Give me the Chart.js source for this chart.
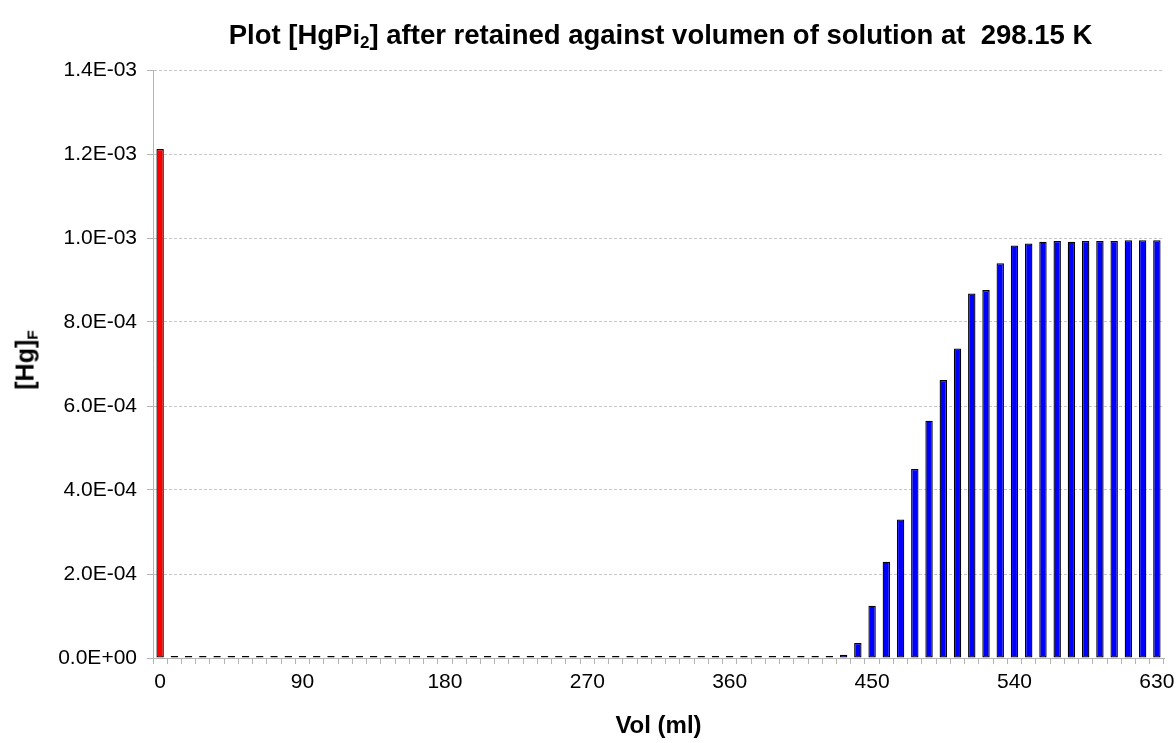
<!DOCTYPE html>
<html>
<head>
<meta charset="utf-8">
<script src="https://cdn.jsdelivr.net/npm/chart.js@4"></script>
<style>
  body { margin: 0; background: #fff; }
  #wrap { position: relative; width: 1176px; height: 743px; }
  #title {
    position: absolute; left: 153px; width: 1015px; top: 20px;
    text-align: center; font: bold 27.5px "Liberation Sans", Arial, sans-serif;
    line-height: 30px; white-space: nowrap;
  }
  #ylabel {
    position: absolute; left: 26px; top: 360px;
    transform: translate(-50%, -50%) rotate(-90deg);
    font: bold 25px "Liberation Sans", Arial, sans-serif; white-space: nowrap;
  }
  sub { font-size: 62%; vertical-align: -0.25em; }
</style>
</head>
<body>
<div id="wrap">
  <canvas id="chart" width="1176" height="743"></canvas>
  <div id="title">Plot [HgPi<sub>2</sub>] after retained against volumen of solution at&nbsp; 298.15 K</div>
  <div id="ylabel">[Hg]<sub>F</sub></div>
</div>
<script>
// volume (ml) for each bar
const volumes = [
  "0", "9", "18", "27", "36", "45", "54", "63", "72", "81",
  "90", "99", "108", "117", "126", "135", "144", "153", "162", "171",
  "180", "189", "198", "207", "216", "225", "234", "243", "252", "261",
  "270", "279", "288", "297", "306", "315", "324", "333", "342", "351",
  "360", "369", "378", "387", "396", "405", "414", "423", "432", "441",
  "450", "459", "468", "477", "486", "495", "504", "513", "522", "531",
  "540", "549", "558", "567", "576", "585", "594", "603", "612", "621",
  "630"
];

// [Hg]F (the flat ones are only a hair above zero)
const hgFree = [
  1.212e-3,
  5e-6, 5e-6, 5e-6, 5e-6, 5e-6, 5e-6, 5e-6, 5e-6, 5e-6,
  5e-6, 5e-6, 5e-6, 5e-6, 5e-6, 5e-6, 5e-6, 5e-6, 5e-6, 5e-6,
  5e-6, 5e-6, 5e-6, 5e-6, 5e-6, 5e-6, 5e-6, 5e-6, 5e-6, 5e-6,
  5e-6, 5e-6, 5e-6, 5e-6, 5e-6, 5e-6, 5e-6, 5e-6, 5e-6, 5e-6,
  5e-6, 5e-6, 5e-6, 5e-6, 5e-6, 5e-6, 5e-6,
  5e-6, 8e-6, 3.6e-5,
  1.245e-4, 2.29e-4, 3.30e-4, 4.50e-4, 5.65e-4, 6.62e-4, 7.37e-4, 8.68e-4, 8.76e-4, 9.40e-4,
  9.82e-4, 9.87e-4, 9.91e-4, 9.93e-4, 9.91e-4, 9.93e-4, 9.93e-4, 9.93e-4, 9.945e-4, 9.945e-4,
  9.945e-4
];

// x labels that are printed
const xTickLabels = ["0", "90", "180", "270", "360", "450", "540", "630"];

function sci(v) {
  // 1.4E-03 style
  let s = Number(v).toExponential(1).toUpperCase();
  return s.replace(/E([+-])(\d)$/, "E$10$2");
}

const axisGrey = "#b4b4b4";

new Chart(document.getElementById("chart"), {
  type: "bar",
  data: {
    labels: volumes,
    datasets: [{
      data: hgFree,
      backgroundColor: ctx => ctx.dataIndex === 0 ? "#ff0000" : "#0000ff",
      borderColor: "#000",
      borderWidth: 1.3,
      borderSkipped: false,
      categoryPercentage: 1,
      barPercentage: 0.52
    }]
  },
  options: {
    responsive: false,
    animation: false,
    layout: { padding: { top: 70, right: 12, bottom: 0, left: 0 } },
    plugins: {
      legend: { display: false },
      tooltip: { enabled: false }
    },
    scales: {
      x: {
        grid: {
          drawOnChartArea: false,
          offset: true,
          tickLength: 6,
          tickColor: axisGrey
        },
        border: { color: axisGrey },
        ticks: {
          autoSkip: false,
          maxRotation: 0,
          padding: 6,
          color: "#000",
          font: { family: "Liberation Sans, Arial", size: 21 },
          callback: function (value) {
            const lab = this.getLabelForValue(value);
            return xTickLabels.includes(lab) ? lab : "";
          }
        },
        title: {
          display: true,
          text: "Vol (ml)",
          color: "#000",
          font: { family: "Liberation Sans, Arial", size: 24, weight: "bold" },
          padding: { top: 0, bottom: 2 }
        },
        afterFit: s => { s.height = 85; s.paddingLeft = 0; s.paddingRight = 0; }
      },
      y: {
        min: 0,
        max: 1.4e-3,
        ticks: {
          stepSize: 2e-4,
          padding: 10,
          color: "#000",
          font: { family: "Liberation Sans, Arial", size: 21 },
          callback: v => sci(v)
        },
        grid: {
          color: "#c8c8c8",
          tickLength: 6,
          tickColor: axisGrey
        },
        border: { color: axisGrey, dash: [3, 2] },
        afterFit: s => { s.width = 153; s.paddingTop = 0; s.paddingBottom = 0; }
      }
    }
  }
});
</script>
</body>
</html>
